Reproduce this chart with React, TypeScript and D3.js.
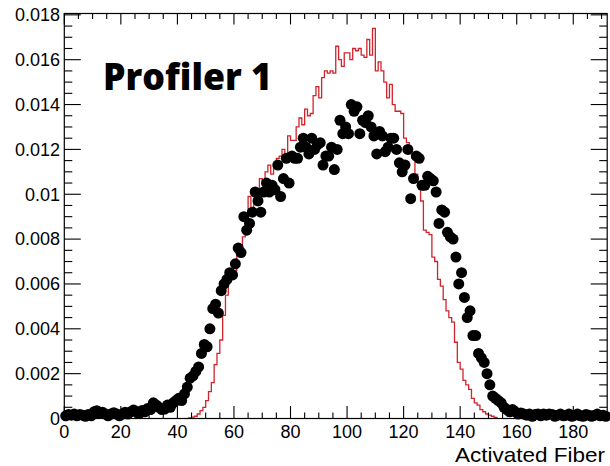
import React from "react";
import * as d3 from "d3";

// Data points (black markers): one value per activated fiber, fibers 0..191
const dataValues: number[] = [
  0.00012, 0.00018, 0.00015, 0.0002, 0.00012, 0.00018, 0.00015, 0.0001, 0.00018, 0.00012,
  0.0003, 0.00035, 0.00022, 0.00028, 0.0002, 0.00012, 0.0002, 0.00026, 0.0002, 0.00012,
  0.0002, 0.00028, 0.0002, 0.0003, 0.00038, 0.0003, 0.00022, 0.00036, 0.0003, 0.00045,
  0.0004, 0.0007, 0.0006, 0.0005, 0.0004, 0.00042, 0.0006, 0.0005, 0.0007, 0.0008,
  0.0009, 0.0008, 0.0011, 0.0014, 0.0018, 0.0019, 0.0021, 0.0023, 0.0029, 0.0033,
  0.0032, 0.004, 0.0049, 0.0051, 0.0047, 0.0057, 0.006, 0.0062, 0.0065, 0.0064,
  0.0069, 0.0076, 0.0074, 0.009, 0.0084, 0.0087, 0.0092, 0.0101, 0.0097, 0.0092,
  0.0101, 0.0105, 0.0101, 0.0104, 0.0102, 0.0113, 0.0099, 0.0107, 0.0116, 0.0105,
  0.0117, 0.0116, 0.0116, 0.0121, 0.0125, 0.0121, 0.0118, 0.0125, 0.012, 0.0122,
  0.0123, 0.0113, 0.0117, 0.0117, 0.0121, 0.0111, 0.012, 0.0133, 0.0127, 0.013,
  0.0127, 0.014, 0.0137, 0.0139, 0.0127, 0.0133, 0.0132, 0.0135, 0.013, 0.0126,
  0.0118, 0.0128, 0.0126, 0.0119, 0.0121, 0.0125, 0.0125, 0.012, 0.0114, 0.011,
  0.0113, 0.012, 0.0098, 0.0107, 0.0117, 0.0116, 0.0104, 0.0104, 0.0108, 0.0107,
  0.0106, 0.0101, 0.0087, 0.0093, 0.0092, 0.0083, 0.0081, 0.008, 0.0072, 0.006,
  0.0065, 0.0054, 0.0045, 0.0048, 0.0037, 0.0037, 0.0029, 0.0027, 0.0025, 0.002,
  0.0015, 0.001, 0.0009, 0.0008, 0.0007, 0.0005, 0.0004, 0.0003, 0.0004, 0.0003,
  0.0002, 0.00025, 0.0002, 0.00015, 0.0002, 0.0001, 0.00018, 0.0002, 0.00012, 0.0002,
  0.00015, 0.0002, 0.00018, 0.0001, 0.00015, 0.0002, 0.00012, 0.00015, 0.0002, 0.0001,
  0.00015, 0.0002, 0.00012, 0.0001, 0.00018, 0.00015, 0.0001, 0.00015, 0.0002, 0.00012,
  0.00015, 0.0001,
];

// Simulation histogram (red steps): bins start at fiber 44, all other bins are 0
const simStartFiber = 44;
const simValues: number[] = [
  0.00003, 0.00006, 0.0001, 0.0002, 0.00035, 0.0005, 0.0008, 0.0012, 0.0016, 0.0024,
  0.0029, 0.0035, 0.0046, 0.0055, 0.0061, 0.0063, 0.0066, 0.0074, 0.0075, 0.0081,
  0.0085, 0.0099, 0.0094, 0.0097, 0.0095, 0.0107, 0.0106, 0.011, 0.0113, 0.0109,
  0.0112, 0.0116, 0.0117, 0.012, 0.0118, 0.0126, 0.0124, 0.0124, 0.013, 0.0134,
  0.0131, 0.0138, 0.0135, 0.0136, 0.0144, 0.0148, 0.0143, 0.0152, 0.0155, 0.0154,
  0.0155, 0.0154, 0.0166, 0.016, 0.0157, 0.0163, 0.0163, 0.016, 0.0165, 0.0164,
  0.0165, 0.0162, 0.0161, 0.0169, 0.0162, 0.0174, 0.0155, 0.0159, 0.0155, 0.015,
  0.0143, 0.0149, 0.014, 0.0137, 0.0137, 0.0136, 0.0125, 0.0123, 0.0118, 0.0116,
  0.0109, 0.0104, 0.0097, 0.0084, 0.0083, 0.0082, 0.0072, 0.007, 0.0062, 0.0059,
  0.0053, 0.0048, 0.0045, 0.0043, 0.0034, 0.0025, 0.0022, 0.0017, 0.0015, 0.0013,
  0.0009, 0.0007, 0.0006, 0.0004, 0.0003, 0.0002, 0.00015, 0.0001, 0.00005,
];

const nFibers = 192;
const yMax = 0.01806;
const xMajorTicks = [0, 20, 40, 60, 80, 100, 120, 140, 160, 180];
const yMajorTicks = [0, 0.002, 0.004, 0.006, 0.008, 0.01, 0.012, 0.014, 0.016, 0.018];
const yTickLabels = ["0", "0.002", "0.004", "0.006", "0.008", "0.01", "0.012", "0.014", "0.016", "0.018"];
const xTitle = "Activated Fiber";
const label = "Profiler 1";

export default function App() {
  const W = 610;
  const H = 466;
  const left = 64.3;
  const right = 607.2;
  const top = 13.5;
  const bottom = 418.5;

  const x = d3.scaleLinear().domain([0, nFibers]).range([left, right]);
  const y = d3.scaleLinear().domain([0, yMax]).range([bottom, top]);

  const xMinor = d3.range(0, nFibers + 0.001, 5);
  const yMinor = d3.range(0, yMax, 0.0005);

  const pts: [number, number][] = [[simStartFiber, 0]];
  simValues.forEach((v, i) => {
    const f = simStartFiber + i;
    pts.push([f, v]);
    pts.push([f + 1, v]);
  });
  pts.push([simStartFiber + simValues.length, 0]);
  const line = d3
    .line<[number, number]>()
    .x((d) => x(d[0]))
    .y((d) => y(d[1]));

  const font = "'Liberation Sans', Arial, Helvetica, sans-serif";

  return (
    <svg
      width={W}
      height={H}
      style={{ position: "absolute", left: 0, top: 0, background: "#fff" }}
    >
      <rect x={0} y={0} width={W} height={H} fill="#fff" />
      <path d={line(pts) || ""} fill="none" stroke="#d0242c" strokeWidth={1.3} />
      {dataValues.map((v, i) => (
        <circle key={i} cx={x(i + 0.5)} cy={y(v)} r={5.5} fill="#000" />
      ))}
      <rect
        x={left}
        y={top}
        width={right - left}
        height={bottom - top}
        fill="none"
        stroke="#000"
        strokeWidth={1.2}
      />
      {xMinor.map((t) => {
        const major = t % 20 === 0;
        const len = major ? 12.5 : 6;
        const lenTop = major ? 11 : 5.5;
        return (
          <g key={"xt" + t}>
            <line x1={x(t)} x2={x(t)} y1={bottom} y2={bottom - len} stroke="#000" strokeWidth={1.1} />
            <line x1={x(t)} x2={x(t)} y1={top} y2={top + lenTop} stroke="#000" strokeWidth={1.1} />
          </g>
        );
      })}
      {yMinor.map((t, i) => {
        const major = i % 4 === 0;
        const len = major ? 16.5 : 8;
        return (
          <g key={"yt" + i}>
            <line x1={left} x2={left + len} y1={y(t)} y2={y(t)} stroke="#000" strokeWidth={1.1} />
            <line x1={right} x2={right - len} y1={y(t)} y2={y(t)} stroke="#000" strokeWidth={1.1} />
          </g>
        );
      })}
      {yMajorTicks.map((t, i) => (
        <text
          key={"yl" + i}
          x={60}
          y={y(t) + 6.3}
          textAnchor="end"
          fontFamily={font}
          fontSize={18}
          fill="#000"
        >
          {yTickLabels[i]}
        </text>
      ))}
      {xMajorTicks.map((t) => (
        <text
          key={"xl" + t}
          x={x(t)}
          y={438}
          textAnchor="middle"
          fontFamily={font}
          fontSize={18}
          fill="#000"
        >
          {String(t)}
        </text>
      ))}
      <text
        x={605}
        y={462}
        textAnchor="end"
        fontFamily={font}
        fontSize={21}
        textLength={150}
        lengthAdjust="spacingAndGlyphs"
        fill="#000"
      >
        {xTitle}
      </text>
      <text
        x={103}
        y={90}
        fontFamily="'Open Sans', 'Noto Sans', sans-serif"
        fontWeight={800}
        fontSize={37}
        textLength={169}
        lengthAdjust="spacingAndGlyphs"
        fill="#000"
      >
        {label}
      </text>
    </svg>
  );
}
